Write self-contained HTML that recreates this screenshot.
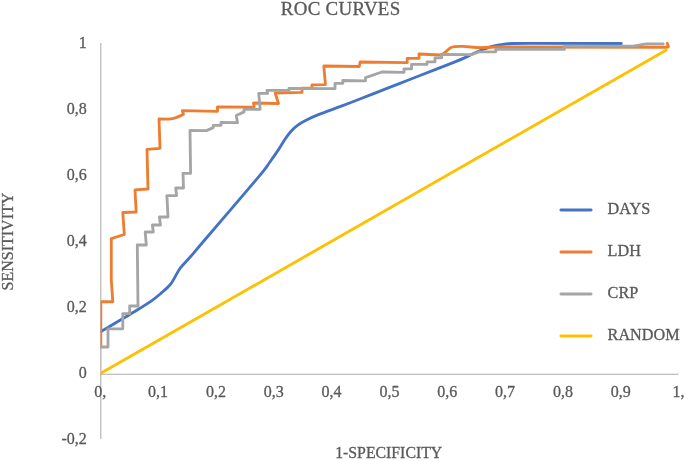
<!DOCTYPE html>
<html>
<head>
<meta charset="utf-8">
<title>ROC Curves</title>
<style>
html,body{margin:0;padding:0;background:#fff;}
body{width:685px;height:461px;overflow:hidden;font-family:"Liberation Serif",serif;}
svg{display:block;filter:blur(0.55px);}
text{font-family:"Liberation Serif",serif;fill:#595959;stroke:#595959;stroke-width:0.3px;}
.ax{stroke:#adadad;stroke-width:1.05;fill:none;}
.ln{fill:none;stroke-width:2.85;stroke-linejoin:round;stroke-linecap:round;}
</style>
</head>
<body>
<svg width="685" height="461" viewBox="0 0 685 461">
<defs><clipPath id="pc"><rect x="100.6" y="30" width="584.4" height="420"/></clipPath></defs>
<rect x="-5" y="-5" width="695" height="471" fill="#ffffff"/>
<!-- title -->
<text x="340.5" y="15.2" font-size="18.9" text-anchor="middle" textLength="119.4" lengthAdjust="spacing">ROC CURVES</text>
<!-- axes -->
<line class="ax" x1="100.8" y1="43" x2="100.8" y2="439"/>
<line class="ax" x1="100.2" y1="374.3" x2="678.5" y2="374.3"/>
<!-- y labels -->
<g font-size="16" text-anchor="end">
<text x="86.8" y="48.0">1</text>
<text x="86.8" y="114.0">0,8</text>
<text x="86.8" y="180.0">0,6</text>
<text x="86.8" y="246.0">0,4</text>
<text x="86.8" y="312.0">0,2</text>
<text x="86.8" y="378.0">0</text>
<text x="86.8" y="444.0">-0,2</text>
</g>
<!-- x labels -->
<g font-size="16" text-anchor="middle">
<text x="100.3" y="396.5">0,</text>
<text x="158.1" y="396.5">0,1</text>
<text x="216.0" y="396.5">0,2</text>
<text x="273.8" y="396.5">0,3</text>
<text x="331.6" y="396.5">0,4</text>
<text x="389.4" y="396.5">0,5</text>
<text x="447.3" y="396.5">0,6</text>
<text x="505.1" y="396.5">0,7</text>
<text x="562.9" y="396.5">0,8</text>
<text x="620.8" y="396.5">0,9</text>
<text x="678.6" y="396.5">1,</text>
</g>
<!-- axis titles -->
<text x="388.7" y="457.8" font-size="15.8" text-anchor="middle">1-SPECIFICITY</text>
<text transform="translate(12.7,241.6) rotate(-90)" font-size="16" text-anchor="middle">SENSITIVITY</text>
<!-- curves -->
<g clip-path="url(#pc)">
<path class="ln" stroke="#4472c4" d="M100.8,331.6 C106.2,328.4 124.7,317.6 133.0,312.5 C141.3,307.4 146.0,304.6 150.8,301.3 C155.6,298.0 158.4,295.5 161.7,292.7 C164.9,289.9 168.0,287.2 170.3,284.5 C172.6,281.8 173.6,279.2 175.3,276.4 C177.0,273.6 178.1,270.9 180.6,267.7 C183.1,264.5 186.1,261.7 190.2,257.0 C194.3,252.3 193.7,252.8 205.1,239.5 C216.5,226.2 247.7,189.8 258.4,177.1 C269.1,164.3 265.8,167.7 269.2,163.0 C272.6,158.3 276.4,152.8 279.0,148.9 C281.6,145.0 282.8,142.5 284.8,139.5 C286.9,136.5 289.2,133.3 291.3,131.0 C293.4,128.7 295.1,127.2 297.5,125.4 C299.9,123.6 302.5,122.0 306.0,120.2 C309.5,118.4 312.7,116.9 318.4,114.6 C324.1,112.3 332.8,109.3 340.0,106.6 C347.2,103.9 356.0,100.5 361.8,98.2 C367.6,96.0 368.6,95.6 375.0,93.1 C381.4,90.6 392.5,86.2 400.0,83.3 C407.5,80.4 410.8,79.1 420.0,75.5 C429.2,71.9 447.5,64.9 455.0,61.9 C462.5,58.9 461.4,59.2 465.0,57.6 C468.6,56.0 473.4,53.5 476.7,52.0 C480.0,50.5 482.1,49.8 485.0,48.8 C487.9,47.8 491.0,46.6 494.0,45.9 C497.0,45.1 500.0,44.7 503.0,44.3 C506.0,43.9 507.5,43.6 512.0,43.5 C516.5,43.4 527.0,43.4 530.0,43.4 L621.3,43.5"/>
<line x1="101.3" y1="347" x2="101.3" y2="372" stroke="#f6c6a4" stroke-width="0.9"/>
<path class="ln" stroke="#ed7d31" d="M100.8,347.0 L100.8,301.7 L112.8,301.7 L111.3,280.0 L111.3,238.6 L124.3,234.5 L122.8,212.5 L136.2,212.0 L135.0,189.8 L148.0,189.0 L147.0,149.4 L160.0,148.3 L159.0,119.0 L169,119.2 Q176,118.6 183.4,114.3 L182.4,110.6 L217.5,111.3 L217.5,106.8 L254.2,107.1 L253.6,103 L278.5,103.5 L275.2,93 L302,92.4 L302,88.1 L312,88.1 L312,84.8 L325.4,84.6 L323.8,66 L359.2,66.5 L360.2,62 L407.2,62.6 L407.2,58.3 L419,58.3 L419,54 L440,55 C445,54.6 446.5,50 451,47.5 C454,46.2 458,46.2 463,46.4 C470,46.8 475,47.5 481,47.6 C488,47.5 492,47.1 498.4,47 L666.5,47.2 Q669.3,47.3 668,45.3 L667.2,43.4"/>
<path class="ln" stroke="#a5a5a5" d="M100.8,347.0 L108.0,347.0 L108.0,328.8 L122.8,328.8 L122.8,313.6 L129.7,313.6 L129.7,306.0 L138.0,306.0 L137.3,245.0 L146.3,245.0 L145.2,232.0 L153.3,232.0 L152.4,225.0 L160.5,225.0 L159.4,217.0 L168.0,217.0 L166.9,195.6 L176.6,195.6 L175.7,188.0 L183.5,188.0 L183.0,173.3 L190.6,173.3 L190.0,130.5 L206.5,130.6 L213.2,127.6 L213.2,125.3 L221.0,125.3 L221.0,122.3 L237.5,122.7 L236.3,115.5 L244.0,111.9 L244.0,109.3 L260.2,109.3 L258.7,93.4 L267.6,93.4 L267.0,90.3 L289.0,90.4 L289.0,88.4 L335.0,88.6 L335.0,83.4 L342.8,83.4 L342.8,80.5 L365.5,80.8 L365.5,77.6 L382.0,72.0 L404.0,72.4 L404.0,68.8 L411.6,68.8 L411.6,64.4 L427.0,64.4 L427.0,61.8 L435.0,61.8 L435.0,57.8 L441.7,57.8 L441.7,54.4 L471.3,54.6 L478.9,51.8 L495.8,51.8 L495.8,49.3 L564.5,49.3 L564.5,46.1 L632.8,46.1 C639,46 642,44 648,43.9 L663.2,43.9"/>
<path class="ln" stroke="#ffc000" d="M100.8,373.2 L666,50.2"/>
</g>
<!-- legend -->
<g class="ln">
<line x1="560.9" y1="210" x2="591.1" y2="210" stroke="#4472c4"/>
<line x1="560.9" y1="252" x2="591.1" y2="252" stroke="#ed7d31"/>
<line x1="560.9" y1="294" x2="591.1" y2="294" stroke="#a5a5a5"/>
<line x1="560.9" y1="336" x2="591.1" y2="336" stroke="#ffc000"/>
</g>
<g font-size="16.2">
<text x="607.6" y="214.1">DAYS</text>
<text x="607.6" y="256">LDH</text>
<text x="607.6" y="298">CRP</text>
<text x="607.6" y="340">RANDOM</text>
</g>
</svg>
</body>
</html>
